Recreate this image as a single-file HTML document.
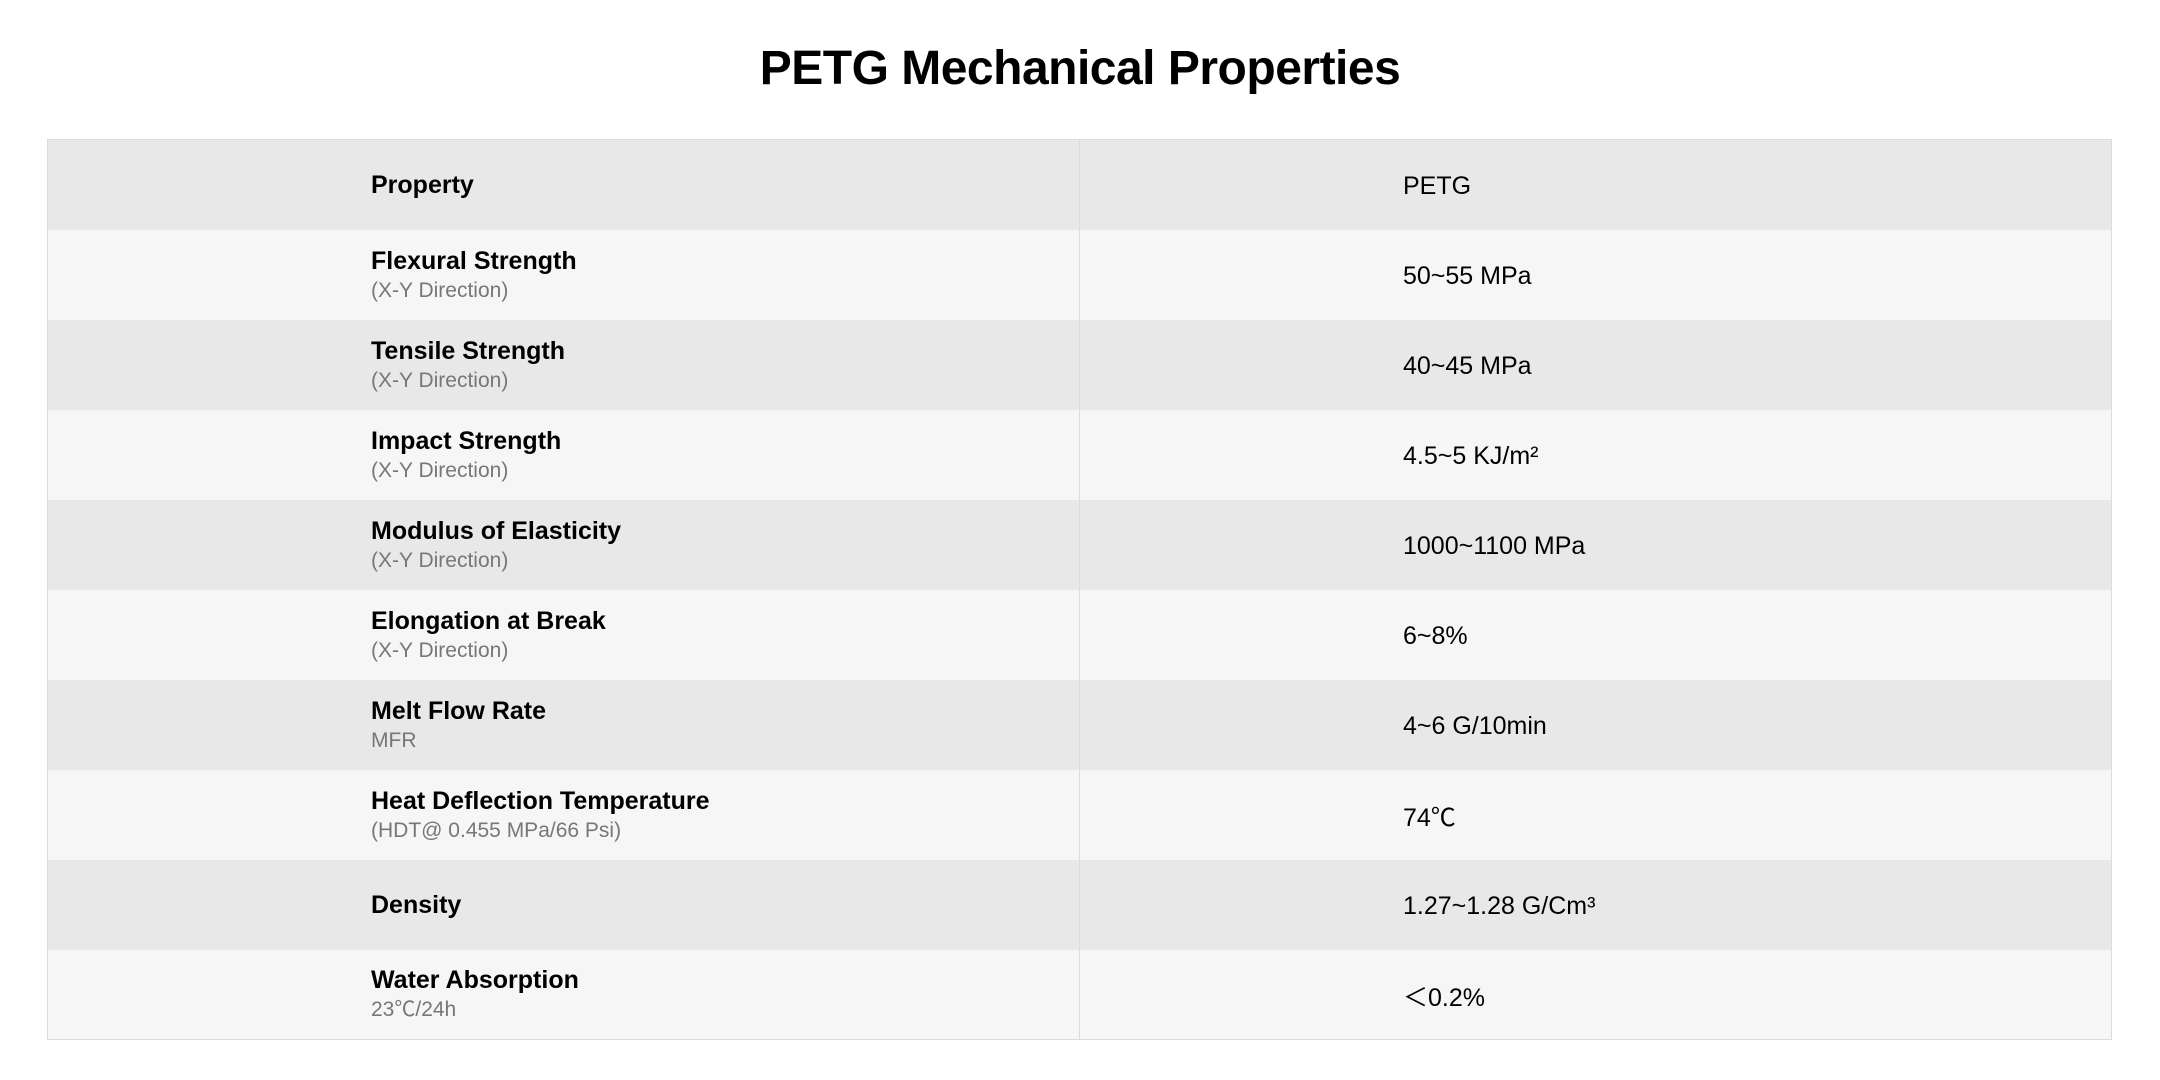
<!DOCTYPE html>
<html><head><style>
body{margin:0;width:2160px;height:1080px;background:#fff;font-family:"Liberation Sans","Noto Sans CJK SC",sans-serif;color:#000;position:relative;overflow:hidden}
h1{position:absolute;top:41px;left:0;width:2160px;text-align:center;margin:0;font-size:48px;font-weight:bold;line-height:56px;letter-spacing:-0.5px}
table{position:absolute;left:47px;top:139px;width:2065px;border-collapse:collapse;border:1px solid #dcdcdc}
td{height:90px;padding:0;vertical-align:middle;box-sizing:border-box}
td.a{width:1032px;padding-left:323px;border-right:1px solid #dcdcdc}
td.b{padding-left:323px;font-size:25px;padding-top:3px}
tr:nth-child(odd){background:#e8e8e8}
tr:nth-child(even){background:#f6f6f6}
.t{font-weight:bold;font-size:25px;line-height:32px}
.s{font-size:21px;color:#777;line-height:28px}
</style></head><body>
<h1>PETG Mechanical Properties</h1>
<table>
<tr><td class="a"><div class="t">Property</div></td><td class="b">PETG</td></tr>
<tr><td class="a"><div class="t">Flexural Strength</div><div class="s">(X-Y Direction)</div></td><td class="b">50~55 MPa</td></tr>
<tr><td class="a"><div class="t">Tensile Strength</div><div class="s">(X-Y Direction)</div></td><td class="b">40~45 MPa</td></tr>
<tr><td class="a"><div class="t">Impact Strength</div><div class="s">(X-Y Direction)</div></td><td class="b">4.5~5 KJ/m²</td></tr>
<tr><td class="a"><div class="t">Modulus of Elasticity</div><div class="s">(X-Y Direction)</div></td><td class="b">1000~1100 MPa</td></tr>
<tr><td class="a"><div class="t">Elongation at Break</div><div class="s">(X-Y Direction)</div></td><td class="b">6~8%</td></tr>
<tr><td class="a"><div class="t">Melt Flow Rate</div><div class="s">MFR</div></td><td class="b">4~6 G/10min</td></tr>
<tr><td class="a"><div class="t">Heat Deflection Temperature</div><div class="s">(HDT@ 0.455 MPa/66 Psi)</div></td><td class="b">74℃</td></tr>
<tr><td class="a"><div class="t">Density</div></td><td class="b">1.27~1.28 G/Cm³</td></tr>
<tr><td class="a"><div class="t">Water Absorption</div><div class="s">23℃/24h</div></td><td class="b">＜0.2%</td></tr>
</table>
</body></html>
